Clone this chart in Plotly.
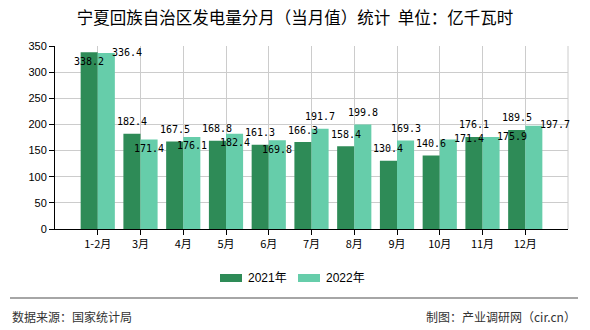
import plotly.graph_objects as go

categories = ["1-2月", "3月", "4月", "5月", "6月", "7月", "8月", "9月", "10月", "11月", "12月"]
values_2021 = [338.2, 182.4, 167.5, 168.8, 161.3, 166.3, 158.4, 130.4, 140.6, 176.1, 189.5]
values_2022 = [336.4, 171.4, 176.1, 182.4, 169.8, 191.7, 199.8, 169.3, 171.4, 175.9, 197.7]
y_ticks = [0, 50, 100, 150, 200, 250, 300, 350]
series_names = ["2021年", "2022年"]

# label placement styles (as in the reference picture)
place_2021 = ["inside"] + ["above"] * 10
place_2022 = ["right", "inside", "inside", "inside", "inside", "above", "above", "above",
              "right", "right", "right"]

COLORS = ["#2E8B57", "#66CDAA"]
FONT = "Noto Sans CJK SC"
LABEL_FONT = "DejaVu Sans Mono"
W, H = 590, 330
L, R, T, B = 55, 22, 46, 101
ph = H - T - B
pw = W - L - R


def py(pix):
    return (H - B - pix) / ph


def px(pix):
    return (pix - L) / pw


fig = go.Figure()
for name, vals, col in zip(series_names, [values_2021, values_2022], COLORS):
    fig.add_trace(go.Bar(x=categories, y=vals, name=name, marker_color=col,
                         marker_line_width=0, showlegend=False))

annotations = []
half = 8.6
for vals, places, side in [(values_2021, place_2021, -1), (values_2022, place_2022, 1)]:
    for cat, v, p in zip(categories, vals, places):
        xs = side * half
        ys = 0
        if p == "above":
            ys = 12
        elif p == "inside":
            ys = -9
        elif p == "right":
            xs += 21
            ys = 1
        annotations.append(dict(x=cat, y=v, xref="x", yref="y", text=f"{v:.1f}",
                                showarrow=False, xanchor="center", yanchor="middle",
                                xshift=xs, yshift=ys,
                                font=dict(size=10, color="#000", family=LABEL_FONT)))

# custom legend
shapes = [
    dict(type="line", xref="paper", yref="paper", x0=1, x1=1, y0=0, y1=1,
         line=dict(color="#cccccc", width=1)),
    dict(type="line", xref="paper", yref="paper", x0=px(10), x1=px(578),
         y0=py(298), y1=py(298), line=dict(color="#888888", width=1.5)),
]
legend_x = [220, 298]
for lx, name, col in zip(legend_x, series_names, COLORS):
    shapes.append(dict(type="rect", xref="paper", yref="paper", x0=px(lx), x1=px(lx + 22),
                       y0=py(282), y1=py(274), fillcolor=col, line=dict(width=0)))
    annotations.append(dict(text=name, xref="paper", yref="paper", x=px(lx + 26), y=py(278),
                            xanchor="left", yanchor="middle", showarrow=False,
                            font=dict(size=12, color="#000", family="Liberation Sans, " + FONT)))

annotations += [
    dict(text="数据来源：国家统计局", xref="paper", yref="paper", x=px(10), y=py(316),
         xanchor="left", yanchor="middle", showarrow=False,
         font=dict(size=12, color="#333", family=FONT)),
    dict(text="制图：产业调研网（cir.cn）", xref="paper", yref="paper", x=px(578), y=py(316),
         xanchor="right", yanchor="middle", showarrow=False,
         font=dict(size=12, color="#333", family=FONT)),
]

fig.update_layout(
    width=W, height=H,
    margin=dict(l=L, r=R, t=T, b=B),
    paper_bgcolor="white", plot_bgcolor="white",
    font=dict(family=FONT, size=11, color="#000"),
    barmode="group", bargap=0.2, bargroupgap=0,
    showlegend=False,
    title=dict(text="宁夏回族自治区发电量分月（当月值）统计  单位：亿千瓦时",
               x=0.5, xanchor="center", y=1 - 18 / H, yanchor="middle",
               font=dict(size=16.5, color="#000", family=FONT)),
    xaxis=dict(type="category", range=[-1, 11], showgrid=True, gridcolor="#cccccc",
               showline=True, linecolor="#000", linewidth=1, ticks="outside",
               ticklen=5, tickcolor="#000", tickfont=dict(size=11, family=FONT)),
    yaxis=dict(range=[0, 350], tickvals=y_ticks, showgrid=True, gridcolor="#cccccc",
               showline=True, linecolor="#000", linewidth=1, ticks="outside",
               ticklen=5, tickcolor="#000", zeroline=False,
               tickfont=dict(size=11, family="Liberation Sans")),
    shapes=shapes,
    annotations=annotations,
)

fig.write_html("out.html")
